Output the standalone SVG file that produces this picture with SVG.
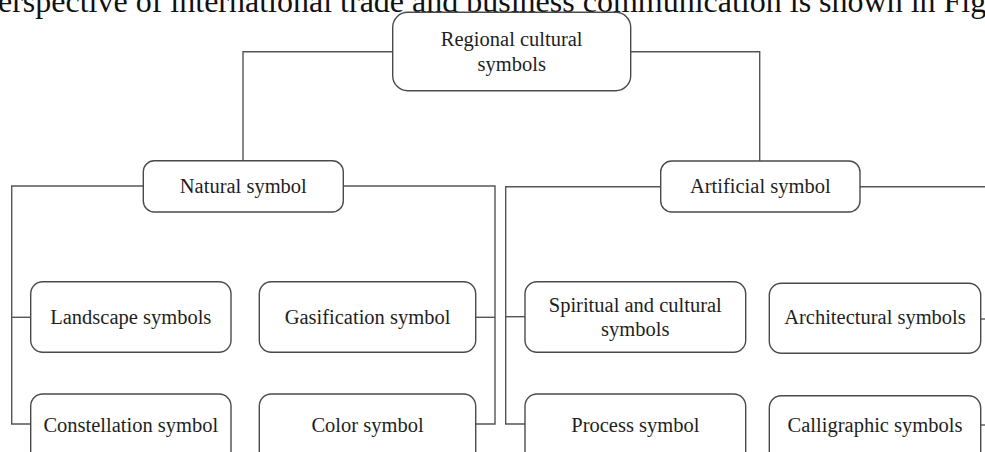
<svg xmlns="http://www.w3.org/2000/svg" width="985" height="452" viewBox="0 0 985 452">
<style>
.box{fill:#fff;stroke:#4a4a4a;stroke-width:1.4}
.lbl{font-family:"Liberation Serif","Times New Roman",serif;font-size:20.5px;fill:#1e1e1e;text-anchor:middle}
.conn{fill:none;stroke:#555;stroke-width:1.4}
.title{font-family:"Liberation Serif","Times New Roman",serif;font-size:32px;fill:#111}
</style>
<rect width="985" height="452" fill="#fff"/>
<text class="title" x="-2" y="11.5">erspective of international trade and business communication is shown in Fig</text>
<g id="connectors" class="conn">
<path d="M392.7,51.7 H243 V160.7"/>
<path d="M630.7,51.7 H759.7 V161"/>
<path d="M143.3,186 H11.7 V424 H30.7"/>
<path d="M11.7,317.3 H30.7"/>
<path d="M343.3,186 H495 V424 H475.7"/>
<path d="M495,317.3 H475.7"/>
<path d="M660.7,186.7 H505.7 V424 H525"/>
<path d="M505.7,316.7 H525"/>
<path d="M860,186.7 H990"/>
<path d="M980.7,319 H990"/>
<path d="M980.7,425 H990"/>
</g>
<g id="regional">
<rect class="box" x="392.7" y="12.3" width="238" height="78.4" rx="15"/>
<text class="lbl" x="511.7" y="46">Regional cultural</text>
<text class="lbl" x="511.7" y="70.7">symbols</text>
</g>
<g id="natural">
<rect class="box" x="143.3" y="160.7" width="200" height="51.3" rx="11"/>
<text class="lbl" x="243.3" y="193.3">Natural symbol</text>
</g>
<g id="artificial">
<rect class="box" x="660.7" y="161" width="199.3" height="51" rx="11"/>
<text class="lbl" x="760.3" y="193.3">Artificial symbol</text>
</g>
<g id="landscape">
<rect class="box" x="30.7" y="281.7" width="200.3" height="70.6" rx="12"/>
<text class="lbl" x="130.8" y="324">Landscape symbols</text>
</g>
<g id="gasification">
<rect class="box" x="259.3" y="281.7" width="216.4" height="70.6" rx="12"/>
<text class="lbl" x="367.5" y="324">Gasification symbol</text>
</g>
<g id="constellation">
<rect class="box" x="30.7" y="394" width="200.3" height="70.6" rx="12"/>
<text class="lbl" x="130.8" y="432.3">Constellation symbol</text>
</g>
<g id="color">
<rect class="box" x="259.3" y="394" width="216.4" height="70.6" rx="12"/>
<text class="lbl" x="367.5" y="432.3">Color symbol</text>
</g>
<g id="spiritual">
<rect class="box" x="525" y="281.7" width="220.7" height="70.6" rx="12"/>
<text class="lbl" x="635.3" y="311.7">Spiritual and cultural</text>
<text class="lbl" x="635.3" y="335.7">symbols</text>
</g>
<g id="architectural">
<rect class="box" x="769.3" y="283.3" width="211.4" height="70" rx="12"/>
<text class="lbl" x="875" y="324">Architectural symbols</text>
</g>
<g id="process">
<rect class="box" x="525" y="394" width="220.7" height="70.6" rx="12"/>
<text class="lbl" x="635.3" y="432.3">Process symbol</text>
</g>
<g id="calligraphic">
<rect class="box" x="769.3" y="395.7" width="211.4" height="70" rx="12"/>
<text class="lbl" x="875" y="432.3">Calligraphic symbols</text>
</g>
</svg>
